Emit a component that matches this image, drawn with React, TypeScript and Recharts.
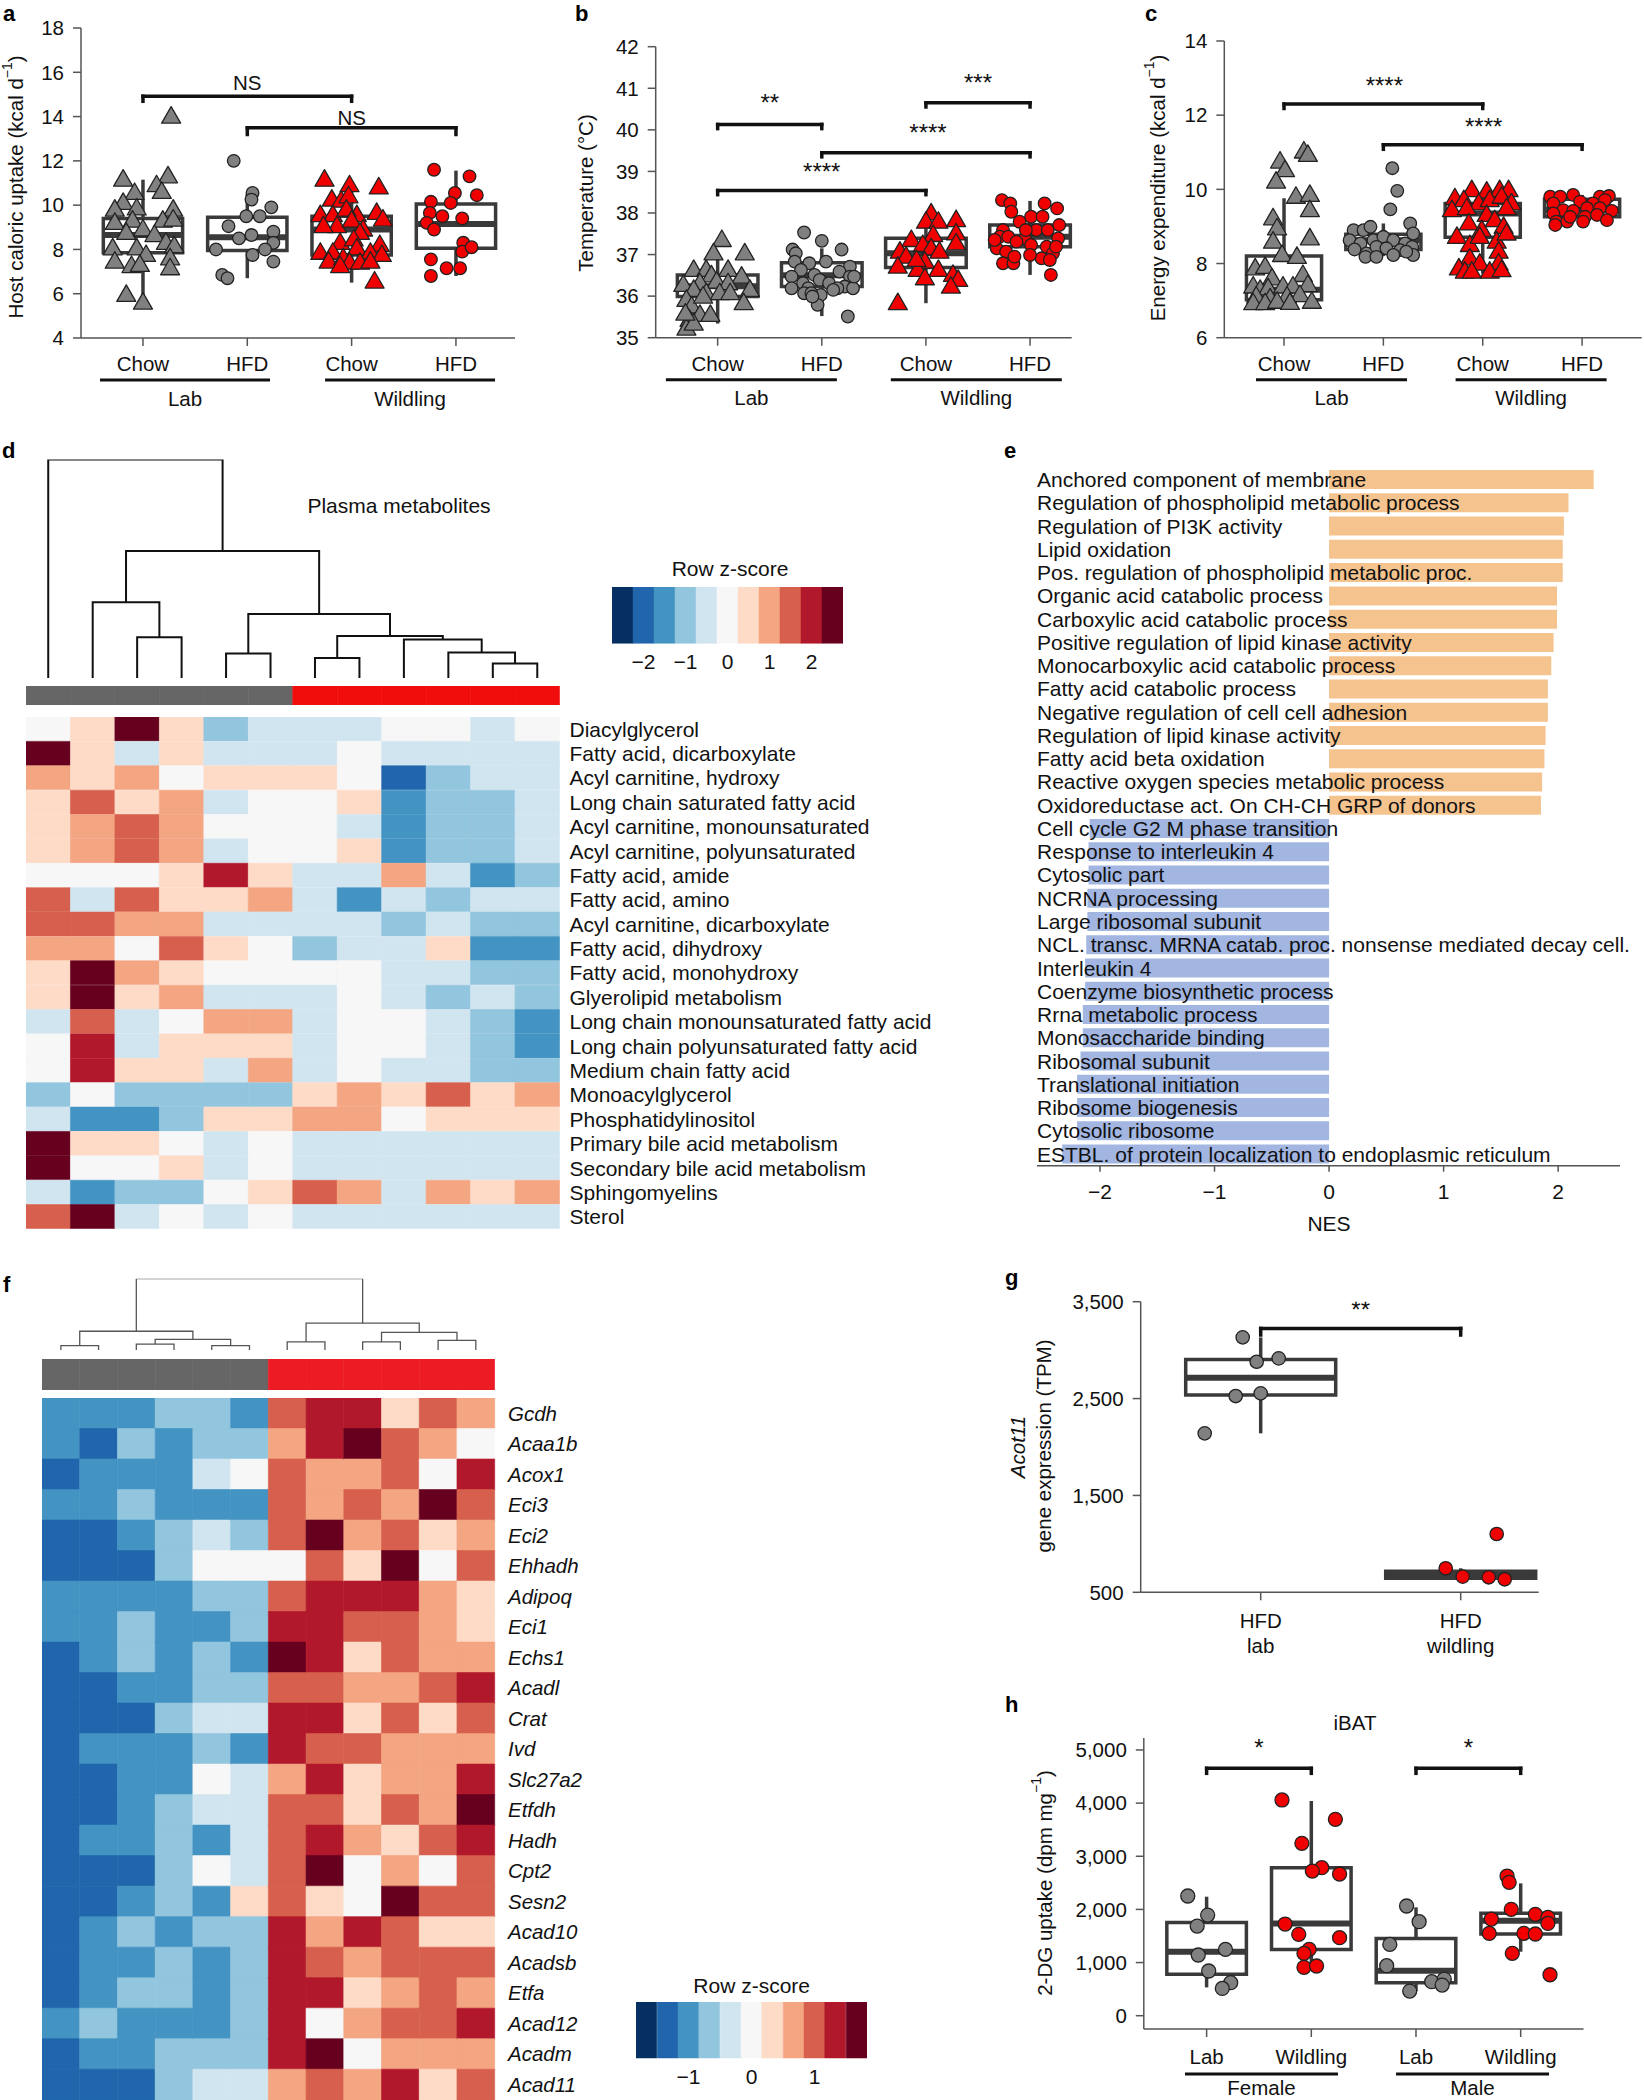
import React from "react";
import {
  ScatterChart,
  Scatter,
  XAxis,
  YAxis,
  ReferenceLine,
  ReferenceArea,
  BarChart,
  Bar,
  Cell,
  LineChart,
  Line,
} from "recharts";

const FONT = '"Liberation Sans", Arial, Helvetica, sans-serif';
const INK = "#111";
const AXIS = "#555";
const BOX = "#3a3a3a";
const GRAY = "#808080";
const RED = "#f00000";
const ORANGE = "#f5c38e";
const BLUE = "#a2b6e1";
const RDBU = ["#053061", "#2166ac", "#4393c3", "#92c5de", "#d1e5f0", "#f7f7f7", "#fddbc7", "#f4a582", "#d6604d", "#b2182b", "#67001f"];
const LAB_BAR = "#666666";

// ---------- panel a : host caloric uptake ----------
const dietLabels = [["Chow"], ["HFD"], ["Chow"], ["HFD"]];
const originLabels = ["Lab", "Wildling"];
const aTicks = [4, 6, 8, 10, 12, 14, 16, 18];
const aLabChow = [[1.27, 14.0], [0.81, 11.15], [1.24, 11.3], [1.13, 10.9], [0.92, 10.55], [1.18, 10.6], [0.81, 10.1], [0.73, 9.8], [0.94, 9.85], [1.29, 9.8], [0.73, 9.2], [0.9, 9.3], [1.19, 9.3], [1.29, 9.35], [0.84, 8.75], [1.0, 8.9], [1.11, 8.65], [0.71, 8.05], [0.94, 8.05], [1.03, 7.75], [1.22, 8.3], [1.3, 8.15], [0.73, 7.45], [0.89, 7.25], [0.97, 7.3], [1.26, 7.6], [1.26, 7.15], [0.84, 5.95], [1.0, 5.6]];
const aLabHfd = [[1.87, 12.0], [2.05, 10.55], [2.04, 10.25], [2.23, 9.9], [1.99, 9.5], [2.12, 9.5], [1.82, 9.05], [1.92, 8.5], [2.04, 8.65], [2.25, 8.8], [2.25, 8.3], [1.7, 8.0], [2.05, 7.75], [2.17, 8.0], [2.25, 7.45], [1.76, 6.85], [1.81, 6.7]];
const aWildChow = [[2.74, 11.15], [2.98, 10.9], [3.26, 10.8], [2.81, 10.25], [2.9, 10.2], [2.97, 10.4], [2.7, 9.55], [2.82, 9.55], [3.05, 9.55], [3.24, 9.65], [3.3, 9.35], [2.95, 9.8], [2.86, 9.05], [2.73, 9.05], [3.0, 9.3], [3.11, 8.9], [3.08, 8.75], [2.89, 8.3], [3.02, 8.45], [3.27, 8.2], [2.7, 7.85], [2.82, 7.85], [3.05, 8.05], [3.18, 7.85], [3.29, 7.75], [2.78, 7.45], [2.92, 7.6], [2.98, 7.4], [3.08, 7.4], [3.18, 7.45], [2.89, 7.25], [3.22, 6.55]];
const aWildHfd = [[3.79, 11.6], [4.13, 11.3], [3.99, 10.55], [4.2, 10.45], [3.76, 10.15], [3.95, 10.1], [3.75, 9.65], [3.87, 9.5], [4.06, 9.4], [3.72, 9.2], [3.79, 8.9], [4.07, 8.3], [4.06, 7.9], [4.15, 8.1], [3.76, 7.55], [3.91, 7.15], [4.04, 7.15], [3.76, 6.8]];
const aBoxStats = [[7.85, 8.65, 9.4, 5.6, 11.15], [7.95, 8.55, 9.45, 6.7, 10.5], [7.75, 8.9, 9.5, 6.5, 10.6], [8.05, 9.15, 10.05, 6.8, 11.56]];
const aBrackets = [
  { x1: 1, x2: 3, y: 14.92, d: 0.23, t: "NS", tx: 2.0, ty: 15.52 },
  { x1: 2, x2: 4, y: 13.49, d: 0.3, t: "NS", tx: 3.0, ty: 13.98 },
];

// ---------- panel b : temperature ----------
const bTicks = [35, 36, 37, 38, 39, 40, 41, 42];
const bLabChow = [[1.04, 37.35], [0.96, 37.03], [1.26, 37.03], [0.77, 36.63], [0.89, 36.63], [1.1, 36.63], [0.94, 36.5], [1.23, 36.47], [0.67, 36.27], [0.83, 36.31], [0.99, 36.35], [1.1, 36.31], [0.77, 36.15], [0.89, 36.07], [1.02, 36.07], [1.12, 36.07], [1.31, 36.15], [0.7, 35.91], [0.75, 35.75], [1.25, 35.83], [0.86, 35.99], [0.83, 35.55], [0.93, 35.55], [0.73, 35.43], [0.7, 35.22], [0.77, 35.34], [0.69, 35.58]];
const bLabHfd = [[1.83, 37.53], [2.0, 37.33], [2.19, 37.12], [1.72, 37.12], [1.75, 37.03], [1.74, 36.83], [1.88, 36.79], [2.04, 36.83], [2.27, 36.71], [1.8, 36.63], [1.93, 36.51], [2.17, 36.59], [2.27, 36.47], [1.71, 36.47], [1.98, 36.39], [1.82, 36.31], [2.07, 36.31], [2.22, 36.23], [1.71, 36.19], [1.87, 36.19], [2.15, 36.19], [2.3, 36.19], [1.83, 36.07], [1.99, 36.03], [1.9, 36.07], [1.96, 35.79], [2.25, 35.51], [1.91, 35.99], [2.11, 36.15], [2.31, 36.47]];
const bWildChow = [[3.05, 37.99], [3.0, 37.79], [3.12, 37.79], [3.29, 37.83], [2.86, 37.35], [3.07, 37.47], [3.29, 37.51], [2.75, 37.07], [2.81, 36.95], [2.97, 37.23], [3.05, 37.15], [3.29, 37.27], [3.13, 37.07], [2.73, 36.71], [2.99, 36.83], [2.92, 36.63], [3.12, 36.63], [3.26, 36.51], [2.99, 36.43], [3.31, 36.39], [3.24, 36.23], [2.73, 35.83], [2.91, 36.87]];
const bWildHfd = [[3.73, 38.31], [3.81, 38.23], [4.14, 38.23], [4.26, 38.11], [3.82, 38.03], [3.9, 37.79], [4.01, 37.91], [4.12, 37.91], [3.74, 37.59], [3.71, 37.43], [3.79, 37.43], [3.95, 37.39], [4.06, 37.59], [4.17, 37.59], [4.28, 37.71], [4.27, 37.39], [3.68, 37.15], [3.77, 37.07], [3.87, 37.31], [4.01, 37.23], [4.16, 37.19], [4.11, 36.91], [4.22, 37.03], [3.74, 36.79], [3.84, 36.79], [4.0, 36.99], [4.19, 36.87], [4.2, 36.51], [3.66, 37.35], [4.25, 37.19], [3.85, 36.95], [3.96, 37.59]];
const bBoxStats = [[35.99, 36.24, 36.51, 35.34, 37.0], [36.23, 36.5, 36.8, 35.52, 37.15], [36.69, 37.03, 37.39, 35.83, 37.65], [37.19, 37.43, 37.71, 36.51, 38.29]];
const bBrackets = [
  { x1: 1, x2: 2, y: 40.13, d: 0.1, t: "**", tx: 1.5, ty: 40.76 },
  { x1: 3, x2: 4, y: 40.65, d: 0.1, t: "***", tx: 3.5, ty: 41.24 },
  { x1: 2, x2: 4, y: 39.45, d: 0.1, t: "****", tx: 3.02, ty: 40.04 },
  { x1: 1, x2: 3, y: 38.54, d: 0.1, t: "****", tx: 2.0, ty: 39.11 },
];

// ---------- panel c : energy expenditure ----------
const cTicks = [6, 8, 10, 12, 14];
const cLabChow = [[1.2, 11.02], [1.24, 10.93], [0.96, 10.75], [1.01, 10.52], [0.92, 10.21], [1.12, 9.8], [1.26, 9.85], [1.26, 9.44], [0.89, 9.22], [0.93, 8.95], [1.26, 8.68], [0.89, 8.59], [0.98, 8.23], [1.13, 8.18], [0.71, 7.87], [0.81, 7.91], [1.19, 7.69], [0.88, 7.6], [0.69, 7.38], [0.76, 7.29], [0.84, 7.33], [0.99, 7.38], [1.09, 7.38], [1.24, 7.42], [0.72, 7.11], [0.86, 7.06], [1.03, 7.11], [1.16, 7.15], [0.69, 6.93], [0.81, 6.93], [0.93, 6.97], [1.06, 6.94], [1.28, 6.97]];
const cLabHfd = [[2.09, 10.57], [2.14, 9.96], [2.07, 9.46], [1.7, 8.9], [1.8, 8.9], [1.87, 8.99], [2.27, 9.08], [2.3, 8.81], [1.66, 8.63], [1.77, 8.54], [1.9, 8.63], [2.0, 8.72], [2.1, 8.63], [2.22, 8.54], [1.71, 8.38], [1.83, 8.27], [1.93, 8.45], [2.03, 8.41], [2.17, 8.36], [2.29, 8.45], [1.82, 8.18], [1.93, 8.18], [2.1, 8.23], [2.3, 8.23], [2.23, 8.32]];
const cWildChow = [[2.89, 9.98], [3.04, 9.94], [3.17, 9.98], [3.26, 9.98], [2.72, 9.76], [2.81, 9.71], [2.96, 9.62], [3.07, 9.71], [3.19, 9.8], [3.29, 9.62], [2.69, 9.44], [2.84, 9.49], [3.04, 9.31], [3.24, 9.49], [2.86, 9.08], [2.99, 8.9], [3.12, 9.17], [3.21, 8.99], [2.74, 8.72], [2.87, 8.5], [3.14, 8.59], [3.24, 8.81], [3.16, 8.32], [3.16, 8.0], [2.87, 8.14], [2.97, 8.0], [2.76, 7.87], [2.82, 7.78], [2.89, 7.78], [3.07, 7.78], [3.19, 7.82], [2.97, 8.72]];
const cWildHfd = [[3.68, 9.8], [3.78, 9.8], [3.91, 9.85], [4.18, 9.8], [4.27, 9.82], [3.71, 9.62], [3.98, 9.67], [4.11, 9.62], [4.23, 9.71], [3.81, 9.44], [3.91, 9.42], [4.05, 9.49], [4.18, 9.49], [4.3, 9.42], [3.71, 9.35], [4.03, 9.26], [4.15, 9.31], [3.74, 9.13], [3.85, 9.13], [4.01, 9.13], [4.25, 9.17], [3.73, 9.04], [3.88, 9.26]];
const cBoxStats = [[7.02, 7.29, 8.2, 6.85, 9.76], [8.38, 8.63, 8.79, 8.2, 9.08], [8.71, 9.35, 9.62, 7.73, 9.95], [9.26, 9.46, 9.73, 9.05, 9.85]];
const cBrackets = [
  { x1: 1, x2: 3, y: 12.3, d: 0.12, t: "****", tx: 2.01, ty: 12.92 },
  { x1: 2, x2: 4, y: 11.2, d: 0.12, t: "****", tx: 3.01, ty: 11.82 },
];

// ---------- panel d : plasma metabolites heatmap ----------
const dMetabolites = [
  "Diacylglycerol", "Fatty acid, dicarboxylate", "Acyl carnitine, hydroxy", "Long chain saturated fatty acid",
  "Acyl carnitine, monounsaturated", "Acyl carnitine, polyunsaturated", "Fatty acid, amide", "Fatty acid, amino",
  "Acyl carnitine, dicarboxylate", "Fatty acid, dihydroxy", "Fatty acid, monohydroxy", "Glyerolipid metabolism",
  "Long chain monounsaturated fatty acid", "Long chain polyunsaturated fatty acid", "Medium chain fatty acid",
  "Monoacylglycerol", "Phosphatidylinositol", "Primary bile acid metabolism", "Secondary bile acid metabolism",
  "Sphingomyelins", "Sterol",
];
const dZ = [
  [0, 0.5, 2.5, 0.5, -1, -0.5, -0.5, -0.5, 0, 0, -0.5, 0],
  [2.5, 0.5, -0.5, 0.5, -0.5, -0.5, -0.5, 0, -0.5, -0.5, -0.5, -0.5],
  [1, 0.5, 1, 0, 0.5, 0.5, 0.5, 0, -2, -1, -0.5, -0.5],
  [0.5, 1.5, 0.5, 1, -0.5, 0, 0, 0.5, -1.5, -1, -1, -0.5],
  [0.5, 1, 1.5, 1, 0, 0, 0, -0.5, -1.5, -1, -1, -0.5],
  [0.5, 1, 1.5, 1, -0.5, 0, 0, 0.5, -1.5, -1, -1, -0.5],
  [0, 0, 0, 0.5, 2, 0.5, -0.5, -0.5, 1, -0.5, -1.5, -1],
  [1.5, -0.5, 1.5, 0.5, 0.5, 1, -0.5, -1.5, -0.5, -1, -0.5, -0.5],
  [1.5, 1.5, 1, 1, -0.5, -0.5, -0.5, -0.5, -1, -0.5, -1, -1],
  [1, 1, 0, 1.5, 0.5, 0, -1, -0.5, -0.5, 0.5, -1.5, -1.5],
  [0.5, 2.5, 1, 0.5, 0, 0, 0, 0, -0.5, -0.5, -1, -1],
  [0.5, 2.5, 0.5, 1, -0.5, -0.5, -0.5, 0, -0.5, -1, -0.5, -1],
  [-0.5, 1.5, -0.5, 0, 1, 1, -0.5, 0, 0, -0.5, -1, -1.5],
  [0, 2, -0.5, 0.5, 0.5, 0.5, -0.5, 0, 0, -0.5, -1, -1.5],
  [0, 2, 0.5, 0.5, -0.5, 1, -0.5, 0, -0.5, -0.5, -1, -1],
  [-1, 0, -1, -1, -1, -1, 0.5, 1, 0.5, 1.5, 0.5, 1],
  [-0.5, -1.5, -1.5, -1, 0.5, 0.5, 1, 1, 0, 0.5, 0.5, 0.5],
  [2.5, 0.5, 0.5, 0, -0.5, 0, -0.5, -0.5, -0.5, -0.5, -0.5, -0.5],
  [2.5, 0, 0, 0.5, -0.5, 0, -0.5, -0.5, -0.5, -0.5, -0.5, -0.5],
  [-0.5, -1.5, -1, -1, 0, 0.5, 1.5, 1, -0.5, 1, 0.5, 1],
  [1.5, 2.5, -0.5, 0, -0.5, 0, -0.5, -0.5, -0.5, -0.5, -0.5, -0.5],
];
const dGroups = ["lab", "lab", "lab", "lab", "lab", "lab", "wild", "wild", "wild", "wild", "wild", "wild"];
// linkage rows: [child a, child b, height]; ids >= 12 refer to earlier merges
const dMerges = [[10, 11, 0.66], [9, 12, 1.17], [8, 13, 1.76], [6, 7, 0.91], [15, 14, 1.92], [4, 5, 1.12], [17, 16, 2.93], [2, 3, 1.87], [1, 19, 3.47], [20, 18, 5.81], [0, 21, 10]];
const dLegendBins = [-2.5, -2, -1.5, -1, -0.5, 0, 0.5, 1, 1.5, 2, 2.5];
const dLegendTicks = [-2, -1, 0, 1, 2];

// ---------- panel e : GSEA NES ----------
const eTerms = [
  "Anchored component of membrane", "Regulation of phospholipid metabolic process", "Regulation of PI3K activity",
  "Lipid oxidation", "Pos. regulation of phospholipid metabolic proc.", "Organic acid catabolic process",
  "Carboxylic acid catabolic process", "Positive regulation of lipid kinase activity", "Monocarboxylic acid catabolic process",
  "Fatty acid catabolic process", "Negative regulation of cell cell adhesion", "Regulation of lipid kinase activity",
  "Fatty acid beta oxidation", "Reactive oxygen species metabolic process", "Oxidoreductase act. On CH-CH GRP of donors",
  "Cell cycle G2 M phase transition", "Response to interleukin 4", "Cytosolic part", "NCRNA processing",
  "Large ribosomal subunit", "NCL. transc. MRNA catab. proc. nonsense mediated decay cell.", "Interleukin 4",
  "Coenzyme biosynthetic process", "Rrna metabolic process", "Monosaccharide binding", "Ribosomal subunit",
  "Translational initiation", "Ribosome biogenesis", "Cytosolic ribosome", "ESTBL. of protein localization to endoplasmic reticulum",
];
const eNes = [2.31, 2.09, 2.05, 2.04, 2.04, 1.99, 1.99, 1.96, 1.94, 1.91, 1.91, 1.89, 1.88, 1.86, 1.85, -2.09, -2.1, -2.1, -2.11, -2.11, -2.12, -2.13, -2.13, -2.15, -2.15, -2.17, -2.2, -2.2, -2.2, -2.33];
const eTicks = [-2, -1, 0, 1, 2];

// ---------- panel f : gene heatmap ----------
const fGenes = ["Gcdh", "Acaa1b", "Acox1", "Eci3", "Eci2", "Ehhadh", "Adipoq", "Eci1", "Echs1", "Acadl", "Crat", "Ivd", "Slc27a2", "Etfdh", "Hadh", "Cpt2", "Sesn2", "Acad10", "Acadsb", "Etfa", "Acad12", "Acadm", "Acad11"];
const fZ = [
  [-1, -1, -1, -0.7, -0.7, -1, 1, 1.3, 1.3, 0.3, 1, 0.7],
  [-1, -1.3, -0.7, -1, -0.7, -0.7, 0.7, 1.3, 1.7, 1, 0.7, 0],
  [-1.3, -1, -1, -1, -0.3, 0, 1, 0.7, 0.7, 1, 0, 1.3],
  [-1, -1, -0.7, -1, -1, -1, 1, 0.7, 1, 0.7, 1.7, 1],
  [-1.3, -1.3, -1, -0.7, -0.3, -0.7, 1, 1.7, 0.7, 1, 0.3, 0.7],
  [-1.3, -1.3, -1.3, -0.7, 0, 0, 0, 1, 0.3, 1.7, 0, 1],
  [-1, -1, -1, -1, -0.7, -0.7, 1, 1.3, 1.3, 1.3, 0.7, 0.3],
  [-1, -1, -0.7, -1, -1, -0.7, 1.3, 1.3, 1, 1, 0.7, 0.3],
  [-1.3, -1, -0.7, -1, -0.7, -1, 1.7, 1.3, 0.3, 1, 0.7, 0.7],
  [-1.3, -1.3, -1, -1, -0.7, -0.7, 1, 1, 0.7, 0.7, 1, 1.3],
  [-1.3, -1.3, -1.3, -0.7, -0.3, -0.3, 1.3, 1.3, 0.3, 1, 0.3, 1],
  [-1.3, -1, -1, -1, -0.7, -1, 1.3, 1, 1, 0.7, 0.7, 0.7],
  [-1.3, -1.3, -1, -1, 0, -0.3, 0.7, 1.3, 0.3, 0.7, 0.7, 1.3],
  [-1.3, -1.3, -1, -0.7, -0.3, -0.3, 1, 1, 0.3, 1, 0.7, 1.7],
  [-1.3, -1, -1, -0.7, -1, -0.3, 1, 1.3, 0.7, 0.3, 1, 1.3],
  [-1.3, -1.3, -1.3, -0.7, 0, -0.3, 1, 1.7, 0, 0.7, 0, 1],
  [-1.3, -1.3, -1, -0.7, -1, 0.3, 1, 0.3, 0, 1.7, 1, 1],
  [-1.3, -1, -0.7, -1, -0.7, -0.7, 1.3, 0.7, 1.3, 1, 0.3, 0.3],
  [-1.3, -1, -1, -0.7, -1, -0.7, 1.3, 1, 0.7, 1, 1, 1],
  [-1.3, -1, -0.7, -0.7, -1, -0.7, 1.3, 1.3, 0.3, 0.7, 1, 0.7],
  [-1, -0.7, -1, -1, -1, -0.7, 1.3, 0, 0.7, 1, 1, 1.3],
  [-1.3, -1, -1, -0.7, -0.7, -0.7, 1.3, 1.7, 0, 0.7, 0.7, 0.7],
  [-1.3, -1.3, -1.3, -0.7, -0.3, -0.3, 0.7, 1, 0.7, 1.3, 0.3, 1],
];
const fGroups = ["lab", "lab", "lab", "lab", "lab", "lab", "wild", "wild", "wild", "wild", "wild", "wild"];
const fMerges = [[0, 1, 0.6], [2, 3, 0.83], [4, 5, 0.6], [13, 14, 1.5], [12, 15, 2.63], [6, 7, 1.13], [8, 9, 1.13], [10, 11, 1.35], [18, 19, 2.48], [17, 20, 3.76], [16, 21, 10]];
const fLegendBins = [-1.67, -1.33, -1, -0.67, -0.33, 0, 0.33, 0.67, 1, 1.33, 1.67];
const fLegendTicks = [-1, 0, 1];

// ---------- panel g : Acot11 ----------
const gTicks = [500, 1500, 2500, 3500];
const gCats = [["HFD", "lab"], ["HFD", "wildling"]];
const gLab = [[0.91, 3132], [0.98, 2880], [1.09, 2915], [0.875, 2526], [1.0, 2554], [0.72, 2141]];
const gWild = [[1.925, 748], [2.01, 662], [2.14, 655], [2.22, 634], [2.18, 1102]];
const gBoxStats = [[2536, 2715, 2904, 2141, 3131], [644, 679, 718, 634, 748]];
const gBrackets = [{ x1: 1, x2: 2, y: 3224, d: 68, t: "**", tx: 1.5, ty: 3465 }];

// ---------- panel h : iBAT 2-DG uptake ----------
const hTicks = [0, 1000, 2000, 3000, 4000, 5000];
const hCats = [["Lab"], ["Wildling"], ["Lab"], ["Wildling"]];
const sexLabels = ["Female", "Male"];
const hFemaleLab = [[0.82, 2252], [1.01, 1894], [0.91, 1687], [1.18, 1248], [0.92, 1142], [1.02, 841], [1.23, 621], [1.15, 514]];
const hFemaleWild = [[1.72, 4059], [2.23, 3695], [1.91, 3243], [2.1, 2785], [2.01, 2722], [2.27, 2666], [1.75, 1725], [1.88, 1531], [1.98, 1248], [1.93, 1173], [2.27, 1468], [1.93, 910], [2.05, 935]];
const hMaleLab = [[2.91, 2064], [3.03, 1769], [2.75, 1342], [2.72, 941], [3.15, 640], [3.27, 690], [3.25, 577], [2.94, 464]];
const hMaleWild = [[3.87, 2628], [3.89, 2509], [3.91, 2001], [3.72, 1819], [4.14, 1907], [4.26, 1850], [4.26, 1737], [3.7, 1549], [4.03, 1549], [4.14, 1537], [3.92, 1173], [4.28, 771]];
const hBoxStats = [[778, 1204, 1756, 533, 2239], [1248, 1737, 2785, 880, 4040], [621, 847, 1455, 464, 2039], [1537, 1788, 1926, 1204, 2490]];
const hBrackets = [
  { x1: 1, x2: 2, y: 4654, d: 94, t: "*", tx: 1.5, ty: 5125 },
  { x1: 3, x2: 4, y: 4654, d: 94, t: "*", tx: 3.5, ty: 5125 },
];

// ---------- helpers ----------
const toPts = (arr: number[][]) => arr.map(([x, y]) => ({ x, y }));
const minus = (v: number) => (v < 0 ? `\u2212${Math.abs(v)}` : `${v}`);
const comma = (v: number) => v.toLocaleString("en-US");
const rdbu = (k: number) => RDBU[Math.max(0, Math.min(10, k + 5))];
const dColor = (z: number) => rdbu(Math.round(z * 2));
const fColor = (z: number) => rdbu(Math.round(z * 3));
const boxAround = (n: number, half: number) => Array.from({ length: n }, (_, i) => [i + 1 - half, i + 1 + half]);

function dendroPoints(merges: number[][], n: number) {
  const pos: number[] = [];
  const hgt: number[] = [];
  for (let i = 0; i < n; i++) {
    pos[i] = i;
    hgt[i] = 0;
  }
  const pts: { x: number; y: number | null }[] = [];
  merges.forEach(([a, b, h], k) => {
    pts.push({ x: pos[a], y: hgt[a] }, { x: pos[a], y: h }, { x: pos[b], y: h }, { x: pos[b], y: hgt[b] }, { x: pos[b], y: null });
    pos[n + k] = (pos[a] + pos[b]) / 2;
    hgt[n + k] = h;
  });
  return pts;
}

const Tri = ({ cx, cy, fill }: any) => (
  <polygon points={`${cx},${cy - 10} ${cx - 9.5},${cy + 6.5} ${cx + 9.5},${cy + 6.5}`} fill={fill} stroke="#222" strokeWidth={1.3} strokeLinejoin="round" />
);
const Dot = ({ cx, cy, fill, r }: any) => <circle cx={cx} cy={cy} r={r} fill={fill} stroke="#222" strokeWidth={1.3} />;

const BracketText = (p: any) => {
  const t: string = p.payload.t;
  const star = t.includes("*");
  return (
    <text x={p.cx} y={p.cy + (star ? 13 : 7.5)} textAnchor="middle" fontSize={star ? 24 : 20.5} fill={INK}>
      {t}
    </text>
  );
};

type Groups = { labels: string[]; centers: number[]; half: number; lineDy: number; textDy: number };

const catTick = (cats: string[][], catDy: number, groups?: Groups) => (p: any) => {
  const { x, y, payload } = p;
  const v = payload.value;
  if (groups) {
    const gi = groups.centers.indexOf(v);
    if (gi >= 0) {
      return (
        <g>
          <line x1={x - groups.half} x2={x + groups.half} y1={y + groups.lineDy} y2={y + groups.lineDy} stroke={INK} strokeWidth={3} />
          <text x={x} y={y + groups.textDy} textAnchor="middle" dominantBaseline="central" fontSize={20.5} fill={INK}>
            {groups.labels[gi]}
          </text>
        </g>
      );
    }
  }
  const lines = cats[Math.round(v) - 1] || [];
  return (
    <g>
      <line x1={x} x2={x} y1={y} y2={y + 8} stroke={AXIS} strokeWidth={1.5} />
      {lines.map((t, k) => (
        <text key={k} x={x} y={y + catDy + k * 25} textAnchor="middle" dominantBaseline="central" fontSize={20.5} fill={INK}>
          {t}
        </text>
      ))}
    </g>
  );
};

type Series = { pts: number[][]; kind: "tri" | "dot"; fill: string };

function BoxPanel(props: {
  left: number; top: number; width: number; height: number;
  margin: { top: number; right: number; bottom: number; left: number };
  yWidth: number; xHeight: number;
  xDomain: number[]; yDomain: number[]; yTicks: number[]; yFmt?: (v: number) => string;
  xTicks: number[]; tick: (p: any) => any;
  series: Series[]; boxes: number[][]; boxX: number[][]; brackets: any[]; r: number;
}) {
  const { series, boxes, boxX, brackets } = props;
  return (
    <div style={{ position: "absolute", left: props.left, top: props.top }}>
      <ScatterChart width={props.width} height={props.height} margin={props.margin}>
        <XAxis
          type="number" dataKey="x" domain={props.xDomain} ticks={props.xTicks} interval={0} allowDataOverflow
          height={props.xHeight} tickLine={false} tickSize={0} tickMargin={0}
          axisLine={{ stroke: AXIS, strokeWidth: 1.5 }} tick={props.tick}
        />
        <YAxis
          type="number" dataKey="y" domain={props.yDomain} ticks={props.yTicks} interval={0} allowDataOverflow
          width={props.yWidth} tickSize={8} tickMargin={9}
          axisLine={{ stroke: AXIS, strokeWidth: 1.5 }} tickLine={{ stroke: AXIS, strokeWidth: 1.5 }}
          tick={{ fill: INK, fontSize: 20.5 }} tickFormatter={props.yFmt}
        />
        {boxes.flatMap((s, i) => {
          const [q1, med, q3, lo, hi] = s;
          const [x1, x2] = boxX[i];
          const c = i + 1;
          return [
            <ReferenceLine key={`wh${i}`} segment={[{ x: c, y: q3 }, { x: c, y: hi }]} stroke={BOX} strokeWidth={3.5} ifOverflow="visible" />,
            <ReferenceLine key={`wl${i}`} segment={[{ x: c, y: lo }, { x: c, y: q1 }]} stroke={BOX} strokeWidth={3.5} ifOverflow="visible" />,
            <ReferenceArea key={`bx${i}`} x1={x1} x2={x2} y1={q1} y2={q3} fill="#ffffff" fillOpacity={0} stroke={BOX} strokeWidth={3.5} ifOverflow="visible" />,
            <ReferenceLine key={`md${i}`} segment={[{ x: x1, y: med }, { x: x2, y: med }]} stroke={BOX} strokeWidth={6} ifOverflow="visible" />,
          ];
        })}
        {brackets.flatMap((b, i) => [
          <ReferenceLine key={`bh${i}`} segment={[{ x: b.x1, y: b.y }, { x: b.x2, y: b.y }]} stroke={INK} strokeWidth={3.5} strokeLinecap="square" ifOverflow="visible" />,
          <ReferenceLine key={`bl${i}`} segment={[{ x: b.x1, y: b.y }, { x: b.x1, y: b.y - b.d }]} stroke={INK} strokeWidth={3.5} strokeLinecap="square" ifOverflow="visible" />,
          <ReferenceLine key={`br${i}`} segment={[{ x: b.x2, y: b.y }, { x: b.x2, y: b.y - b.d }]} stroke={INK} strokeWidth={3.5} strokeLinecap="square" ifOverflow="visible" />,
        ])}
        {series.map((s, i) => (
          <Scatter
            key={`s${i}`}
            data={toPts(s.pts)}
            isAnimationActive={false}
            shape={(p: any) => (s.kind === "tri" ? <Tri cx={p.cx} cy={p.cy} fill={s.fill} /> : <Dot cx={p.cx} cy={p.cy} fill={s.fill} r={props.r} />)}
          />
        ))}
        <Scatter data={brackets.map((b) => ({ x: b.tx, y: b.ty, t: b.t }))} isAnimationActive={false} shape={BracketText} />
      </ScatterChart>
    </div>
  );
}

function Heatmap(props: { left: number; top: number; width: number; height: number; labelWidth: number; tickMargin: number; names: string[]; z: number[][]; color: (z: number) => string; tick: any }) {
  const cols = props.z[0].map((_, j) => j);
  const data = props.names.map((n) => {
    const o: any = { name: n };
    cols.forEach((j) => (o[`c${j}`] = 1));
    return o;
  });
  return (
    <div style={{ position: "absolute", left: props.left, top: props.top }}>
      <BarChart width={props.width} height={props.height} data={data} layout="vertical" margin={{ top: 0, right: 0, bottom: 0, left: 0 }} barCategoryGap={0} barGap={0}>
        <XAxis type="number" domain={[0, cols.length]} hide />
        {cols.map((j) => (
          <Bar key={j} dataKey={`c${j}`} stackId="s" isAnimationActive={false}>
            {props.z.map((row, i) => (
              <Cell key={i} fill={props.color(row[j])} stroke={props.color(row[j])} strokeWidth={0.6} />
            ))}
          </Bar>
        ))}
        <YAxis type="category" dataKey="name" orientation="right" width={props.labelWidth} axisLine={false} tickLine={false} tickSize={0} tickMargin={props.tickMargin} interval={0} tick={props.tick} />
      </BarChart>
    </div>
  );
}

function GroupBar(props: { left: number; top: number; width: number; height: number; groups: string[]; red: string }) {
  const row: any = { name: "group" };
  props.groups.forEach((_, j) => (row[`c${j}`] = 1));
  return (
    <div style={{ position: "absolute", left: props.left, top: props.top }}>
      <BarChart width={props.width} height={props.height} data={[row]} layout="vertical" margin={{ top: 0, right: 0, bottom: 0, left: 0 }} barCategoryGap={0}>
        <XAxis type="number" domain={[0, props.groups.length]} hide />
        <YAxis type="category" dataKey="name" hide />
        {props.groups.map((g, j) => {
          const c = g === "lab" ? LAB_BAR : props.red;
          return <Bar key={j} dataKey={`c${j}`} stackId="s" fill={c} stroke={c} strokeWidth={0.6} isAnimationActive={false} />;
        })}
      </BarChart>
    </div>
  );
}

function Dendrogram(props: { left: number; top: number; width: number; height: number; marginTop: number; merges: number[][]; n: number; stroke: string; strokeWidth: number }) {
  const pts = dendroPoints(props.merges, props.n);
  return (
    <div style={{ position: "absolute", left: props.left, top: props.top }}>
      <LineChart width={props.width} height={props.height} data={pts} margin={{ top: props.marginTop, right: 0, bottom: 0, left: 0 }}>
        <XAxis type="number" dataKey="x" domain={[-0.5, props.n - 0.5]} hide allowDataOverflow />
        <YAxis type="number" domain={[0, 10]} hide allowDataOverflow />
        <Line dataKey="y" dot={false} activeDot={false} stroke={props.stroke} strokeWidth={props.strokeWidth} connectNulls={false} isAnimationActive={false} strokeLinejoin="miter" />
      </LineChart>
    </div>
  );
}

function ZLegend(props: { left: number; top: number; plotH: number; bins: number[]; binW: number; ticks: number[]; color: (z: number) => string }) {
  const half = (props.bins.length * props.binW) / 2;
  return (
    <div style={{ position: "absolute", left: props.left, top: props.top }}>
      <ScatterChart width={231} height={props.plotH + 32} margin={{ top: 0, right: 0, bottom: 0, left: 0 }}>
        <XAxis type="number" dataKey="x" domain={[-half, half]} ticks={props.ticks} interval={0} allowDataOverflow axisLine={false} tickLine={false} tickSize={0} tickMargin={11} height={32} tickFormatter={minus} tick={{ fill: INK, fontSize: 21 }} />
        <YAxis type="number" dataKey="y" domain={[0, 1]} hide />
        {props.bins.map((z, i) => (
          <ReferenceArea key={i} x1={z - props.binW / 2} x2={z + props.binW / 2} y1={0} y2={1} fill={props.color(z)} fillOpacity={1} stroke={props.color(z)} strokeWidth={0.5} ifOverflow="visible" />
        ))}
        <Scatter data={props.bins.map((z) => ({ x: z, y: 0.5 }))} isAnimationActive={false} shape={() => <g />} />
      </ScatterChart>
    </div>
  );
}

const ETick = (p: any) => (
  <text x={p.x} y={p.y} textAnchor="start" dominantBaseline="central" fontSize={21} fill={INK}>
    {p.payload.value}
  </text>
);

function NesPanel() {
  const data = eTerms.map((term, i) => ({ term, nes: eNes[i] }));
  return (
    <div style={{ position: "absolute", left: 1000, top: 460 }}>
      <BarChart width={644} height={800} data={data} layout="vertical" margin={{ top: 8, right: 24, left: 0, bottom: 0 }} barCategoryGap="9%">
        <XAxis type="number" domain={[-2.55, 2.54]} ticks={eTicks} interval={0} allowDataOverflow height={94.3} tickSize={6} tickMargin={12} tickFormatter={minus} axisLine={{ stroke: AXIS, strokeWidth: 1.5 }} tickLine={{ stroke: AXIS, strokeWidth: 1.5 }} tick={{ fill: INK, fontSize: 21 }} />
        <Bar dataKey="nes" isAnimationActive={false}>
          {data.map((d, i) => (
            <Cell key={i} fill={d.nes > 0 ? ORANGE : BLUE} />
          ))}
        </Bar>
        <YAxis type="category" dataKey="term" width={37} axisLine={false} tickLine={false} tickSize={0} tickMargin={0} interval={0} tick={ETick} />
      </BarChart>
    </div>
  );
}

const RotLabel = ({ x, y, children, italic }: any) => (
  <text transform={`translate(${x},${y}) rotate(-90)`} textAnchor="middle" dominantBaseline="central" fontSize={20.5} fill={INK} fontStyle={italic ? "italic" : "normal"}>
    {children}
  </text>
);

const Letter = ({ x, y, children }: any) => (
  <text x={x} y={y} fontSize={22} fontWeight="bold" fill="#000">
    {children}
  </text>
);

export default function App() {
  const std = (lineHalf: number, centers: number[], catDy: number) =>
    catTick(dietLabels, catDy, { labels: originLabels, centers, half: lineHalf, lineDy: 42, textDy: 60 });
  const aCenters = [1.403, 3.56];
  const bCenters = [1.324, 3.484];
  const cCenters = [1.478, 3.487];
  const hCenters = [1.524, 3.54];
  return (
    <div style={{ position: "absolute", left: 0, top: 0, width: 1644, height: 2100, background: "#fff", fontFamily: FONT, overflow: "hidden" }}>
      <BoxPanel
        left={0} top={0} width={530} height={420} margin={{ top: 28, right: 15, bottom: 0, left: 0 }}
        yWidth={81} xHeight={82} xDomain={[0.406, 4.566]} yDomain={[4, 18]} yTicks={aTicks}
        xTicks={[1, 2, 3, 4, ...aCenters]} tick={std(85, aCenters, 25)} r={6.3}
        series={[
          { pts: aLabChow, kind: "tri", fill: GRAY },
          { pts: aLabHfd, kind: "dot", fill: GRAY },
          { pts: aWildChow, kind: "tri", fill: RED },
          { pts: aWildHfd, kind: "dot", fill: RED },
        ]}
        boxes={aBoxStats} boxX={boxAround(4, 0.38)} brackets={aBrackets}
      />
      <BoxPanel
        left={570} top={0} width={510} height={420} margin={{ top: 46.7, right: 8.3, bottom: 0, left: 0 }}
        yWidth={85.7} xHeight={82.3} xDomain={[0.405, 4.4]} yDomain={[35, 42]} yTicks={bTicks}
        xTicks={[1, 2, 3, 4, ...bCenters]} tick={std(85.5, bCenters, 26)} r={6.3}
        series={[
          { pts: bLabChow, kind: "tri", fill: GRAY },
          { pts: bLabHfd, kind: "dot", fill: GRAY },
          { pts: bWildChow, kind: "tri", fill: RED },
          { pts: bWildHfd, kind: "dot", fill: RED },
        ]}
        boxes={bBoxStats} boxX={boxAround(4, 0.387)} brackets={bBrackets}
      />
      <BoxPanel
        left={1130} top={0} width={514} height={420} margin={{ top: 41, right: 2.3, bottom: 0, left: 0 }}
        yWidth={94.3} xHeight={82.3} xDomain={[0.399, 4.6]} yDomain={[6, 14]} yTicks={cTicks}
        xTicks={[1, 2, 3, 4, ...cCenters]} tick={std(75.5, cCenters, 26)} r={6.3}
        series={[
          { pts: cLabChow, kind: "tri", fill: GRAY },
          { pts: cLabHfd, kind: "dot", fill: GRAY },
          { pts: cWildChow, kind: "tri", fill: RED },
          { pts: cWildHfd, kind: "dot", fill: RED },
        ]}
        boxes={cBoxStats} boxX={boxAround(4, 0.378)} brackets={cBrackets}
      />

      {/* d */}
      <Dendrogram left={26} top={455} width={533.5} height={223} marginTop={4.5} merges={dMerges} n={12} stroke={INK} strokeWidth={2} />
      <GroupBar left={26} top={686} width={533.5} height={19} groups={dGroups} red="#f20d0d" />
      <Heatmap left={26} top={717} width={920} height={512} labelWidth={386.5} tickMargin={10} names={dMetabolites} z={dZ} color={dColor} tick={{ fill: INK, fontSize: 21 }} />
      <ZLegend left={612.3} top={586.7} plotH={56.3} bins={dLegendBins} binW={0.5} ticks={dLegendTicks} color={dColor} />

      {/* e */}
      <NesPanel />

      {/* f */}
      <Dendrogram left={42.3} top={1275} width={452.7} height={75} marginTop={3.7} merges={fMerges} n={12} stroke="#555" strokeWidth={1.3} />
      <GroupBar left={42.3} top={1359} width={452.7} height={31} groups={fGroups} red="#ed1c24" />
      <Heatmap left={42.3} top={1398.3} width={602.7} height={701.7} labelWidth={150} tickMargin={13.3} names={fGenes} z={fZ} color={fColor} tick={{ fill: INK, fontSize: 20.5, fontStyle: "italic" }} />
      <ZLegend left={635.7} top={2002.3} plotH={56} bins={fLegendBins} binW={1 / 3} ticks={fLegendTicks} color={fColor} />

      {/* g */}
      <BoxPanel
        left={1000} top={1280} width={550} height={400} margin={{ top: 21.7, right: 11.3, bottom: 0, left: 0 }}
        yWidth={140.7} xHeight={87.7} xDomain={[0.4, 2.39]} yDomain={[500, 3500]} yTicks={gTicks} yFmt={comma}
        xTicks={[1, 2]} tick={catTick(gCats, 27.7)} r={6.7}
        series={[
          { pts: gLab, kind: "dot", fill: GRAY },
          { pts: gWild, kind: "dot", fill: RED },
        ]}
        boxes={gBoxStats} boxX={boxAround(2, 0.375)} brackets={gBrackets}
      />

      {/* h */}
      <BoxPanel
        left={1000} top={1700} width={600} height={400} margin={{ top: 38, right: 16.5, bottom: 0, left: 0 }}
        yWidth={143.8} xHeight={71} xDomain={[0.4, 4.6]} yDomain={[-250, 5225]} yTicks={hTicks} yFmt={comma}
        xTicks={[1, 2, 3, 4, ...hCenters]}
        tick={catTick(hCats, 27, { labels: sexLabels, centers: hCenters, half: 76.5, lineDy: 45, textDy: 58 })} r={7}
        series={[
          { pts: hFemaleLab, kind: "dot", fill: GRAY },
          { pts: hFemaleWild, kind: "dot", fill: RED },
          { pts: hMaleLab, kind: "dot", fill: GRAY },
          { pts: hMaleWild, kind: "dot", fill: RED },
        ]}
        boxes={hBoxStats} boxX={boxAround(4, 0.38)} brackets={hBrackets}
      />

      {/* text layer: panel letters, axis titles, headings */}
      <svg width={1644} height={2100} style={{ position: "absolute", left: 0, top: 0, pointerEvents: "none" }}>
        <Letter x={3} y={21}>a</Letter>
        <Letter x={575} y={21}>b</Letter>
        <Letter x={1145} y={21}>c</Letter>
        <Letter x={2} y={458}>d</Letter>
        <Letter x={1004} y={458}>e</Letter>
        <Letter x={3} y={1292}>f</Letter>
        <Letter x={1005} y={1285}>g</Letter>
        <Letter x={1005} y={1712}>h</Letter>

        <RotLabel x={15} y={187}>
          Host caloric uptake (kcal d<tspan dy={-8} fontSize={14}>−1</tspan>
          <tspan dy={8}>)</tspan>
        </RotLabel>
        <RotLabel x={585} y={193}>Temperature (°C)</RotLabel>
        <RotLabel x={1157} y={188}>
          Energy expenditure (kcal d<tspan dy={-8} fontSize={14}>−1</tspan>
          <tspan dy={8}>)</tspan>
        </RotLabel>
        <RotLabel x={1017} y={1447} italic>Acot11</RotLabel>
        <RotLabel x={1043.5} y={1446}>gene expression (TPM)</RotLabel>
        <RotLabel x={1044} y={1883}>
          2-DG uptake (dpm mg<tspan dy={-8} fontSize={14}>−1</tspan>
          <tspan dy={8}>)</tspan>
        </RotLabel>

        <text x={399} y={505} textAnchor="middle" dominantBaseline="central" fontSize={21} fill={INK}>Plasma metabolites</text>
        <text x={730} y={568} textAnchor="middle" dominantBaseline="central" fontSize={21} fill={INK}>Row z-score</text>
        <text x={751.7} y={1985} textAnchor="middle" dominantBaseline="central" fontSize={21} fill={INK}>Row z-score</text>
        <text x={1329} y={1223} textAnchor="middle" dominantBaseline="central" fontSize={21} fill={INK}>NES</text>
        <text x={1355} y={1722} textAnchor="middle" dominantBaseline="central" fontSize={20.5} fill={INK}>iBAT</text>
      </svg>
    </div>
  );
}
